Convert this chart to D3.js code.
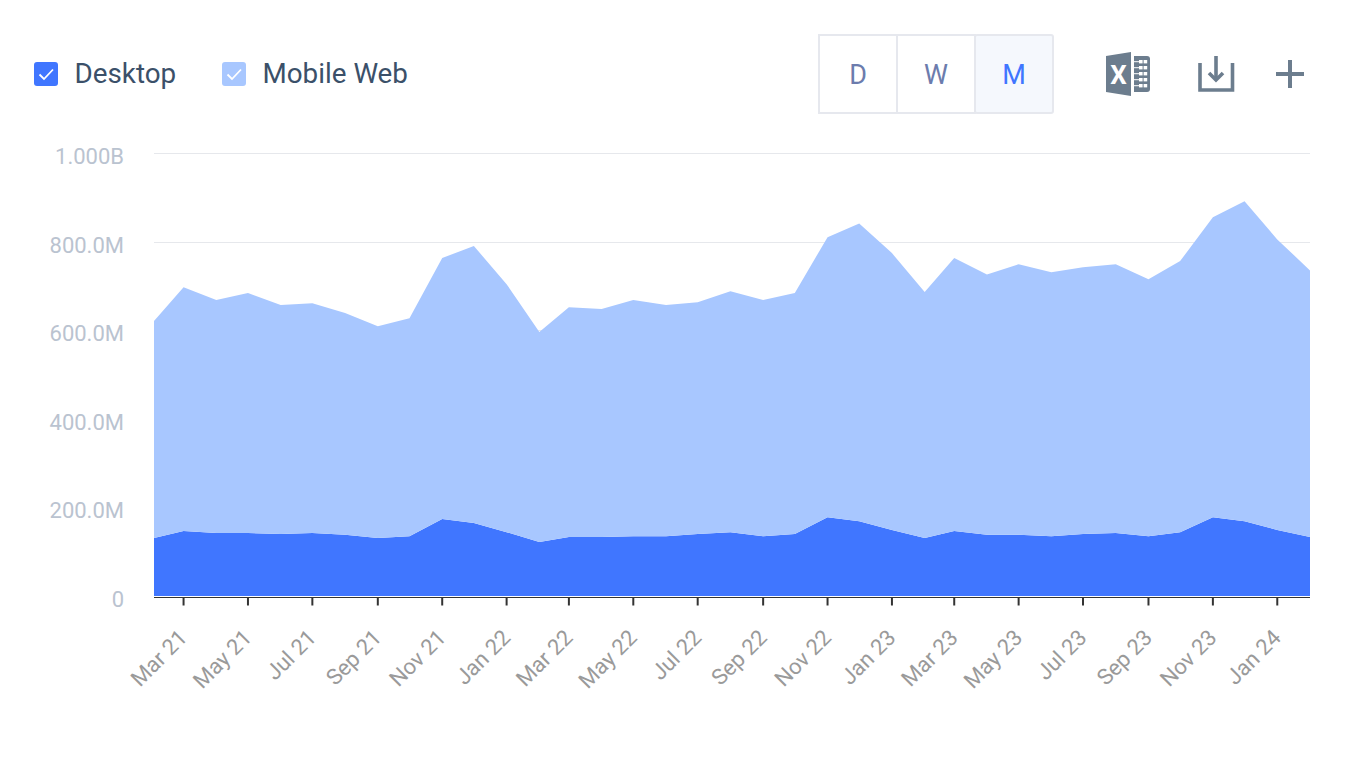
<!DOCTYPE html>
<html><head><meta charset="utf-8">
<style>html,body{margin:0;padding:0;background:#fff;overflow:hidden}svg{display:block}svg text{font-family:Roboto,sans-serif}.tick text{opacity:.99}</style>
<script src="https://cdn.jsdelivr.net/npm/d3@7"></script></head><body>
<svg id="c" width="1350" height="770"></svg>
<script>
const startMonth = "2021-02";
const endMonth = "2024-02";
const desktop = [131,147,142,142,140,142,138,131,135,174,165,144,122,133,133,135,135,140,144,135,140,178,169,149,131,147,138,138,135,140,142,135,144,178,169,149,133];
const mobileWeb = [490,550,526,542,517,519,501,478,492,589,625,560,474,519,515,533,522,523,544,533,544,632,672,625,555,616,588,611,596,602,607,580,612,677,722,656,602];
const yTicks = [0,200,400,600,800,1000];
const yTickLabels = ["0","200.0M","400.0M","600.0M","800.0M","1.000B"];
const seriesNames = ["Desktop","Mobile Web"];
const seriesColors = ["#4076ff","#a8c7ff"];
const periods = ["D","W","M"];

const parse = d3.timeParse("%Y-%m");
const months = d3.timeMonth.range(parse(startMonth), d3.timeMonth.offset(parse(endMonth),1));
const svg = d3.select("#c");
const x = d3.scaleTime().domain([months[0],months[months.length-1]]).range([154,1310]);
const y = d3.scaleLinear().domain([0,1000]).range([596,153]);

// grid
const yAxis = d3.axisLeft(y).tickValues(yTicks).tickSize(0).tickFormat((d,i)=>yTickLabels[i]);
const gy = svg.append("g").attr("transform","translate(124,2.5)").call(yAxis);
gy.select(".domain").remove();
gy.selectAll("text").attr("x",0).attr("dy","0.36em").attr("fill","#bac3d0").attr("font-size",22);
svg.append("g").selectAll("line").data(yTicks.filter(d=>d>0)).join("line")
  .attr("x1",154).attr("x2",1310).attr("y1",d=>Math.round(y(d))+.5).attr("y2",d=>Math.round(y(d))+.5)
  .attr("stroke","#e6e8ec");

// stacked areas
const rows = months.map((m,i)=>({m,desktop:desktop[i],mobile:mobileWeb[i]}));
const stack = d3.stack().keys(["desktop","mobile"])(rows);
const area = d3.area().x(d=>x(d.data.m)).y0(d=>y(d[0])).y1(d=>y(d[1]));
svg.append("g").selectAll("path").data(stack).join("path").attr("d",area).attr("fill",(d,i)=>seriesColors[i]);

// x axis
const xAxis = d3.axisBottom(x).offset(0).tickValues(months.filter(m=>(m.getMonth()%2===0))).tickSize(8.5).tickFormat(d3.timeFormat("%b %y"));
const gx = svg.append("g").attr("transform","translate(0,597)").call(xAxis);
gx.select(".domain").attr("stroke","#333").attr("stroke-width",1).attr("d","M154,0.5H1310");
gx.selectAll(".tick line").attr("stroke","#333").attr("stroke-width",2);
gx.selectAll("text").attr("fill","#999").attr("font-size",22).attr("text-anchor","end")
  .attr("transform","translate(-6,31) rotate(-45)").attr("x",0).attr("y",0).attr("dy","0.71em");

// legend
const legendX = [34,222];
const lg = svg.append("g").selectAll("g").data(seriesNames).join("g").attr("transform",(d,i)=>`translate(${legendX[i]},62)`);
lg.append("rect").attr("width",24).attr("height",24).attr("rx",3).attr("fill",(d,i)=>seriesColors[i]);
lg.append("path").attr("d","M5.5,12.5L10,17L19,7.5").attr("fill","none").attr("stroke","#fff").attr("stroke-width",1.8);
lg.append("text").text(d=>d).attr("x",40.5).attr("y",21).attr("font-size",27.8).attr("fill","#3b5069");

// period buttons
const bw=78, bx=819, by=35, bh=78;
const btn = svg.append("g").selectAll("g").data(periods).join("g").attr("transform",(d,i)=>`translate(${bx+i*bw},${by})`);
btn.append("rect").attr("width",bw).attr("height",bh).attr("rx",(d,i)=>i==2?2:0).attr("fill",(d,i)=>i==2?"#f5f8fd":"#fff").attr("stroke","#e6e8ee").attr("stroke-width",2);
btn.append("text").text(d=>d).attr("x",bw/2).attr("y",49).attr("text-anchor","middle").attr("font-size",27).attr("fill",(d,i)=>i==2?"#4076ff":"#6c7cad");

// icons
const ic="#6c7d8e";
const xl = svg.append("g");
xl.append("path").attr("d","M1106,56L1131,52V96L1106,92Z").attr("fill",ic);
xl.append("text").text("X").attr("x",1118.5).attr("y",84).attr("text-anchor","middle").attr("font-size",26).attr("font-weight",700).attr("fill","#fff");
xl.append("path").attr("d","M1134,56H1147Q1150,56 1150,59V89Q1150,92 1147,92H1134Z").attr("fill",ic);
[60,66,72,78,84].forEach(yy=>{
  [1139,1143.6].forEach(xx=>xl.append("rect").attr("x",xx).attr("y",yy).attr("width",3.6).attr("height",3.4).attr("fill","#fff"));
  xl.append("rect").attr("x",1134).attr("y",yy+1.2).attr("width",5).attr("height",1).attr("fill","#fff");
});
const dl = svg.append("g").attr("fill","none").attr("stroke",ic).attr("stroke-width",3.6);
dl.append("path").attr("d","M1200,63V90H1232.5V63");
dl.append("path").attr("d","M1216,56V80");
dl.append("path").attr("d","M1209,73L1216,80L1223,73");
svg.append("path").attr("d","M1276,74H1304M1290,60V88").attr("fill","none").attr("stroke",ic).attr("stroke-width",4);
</script></body></html>
